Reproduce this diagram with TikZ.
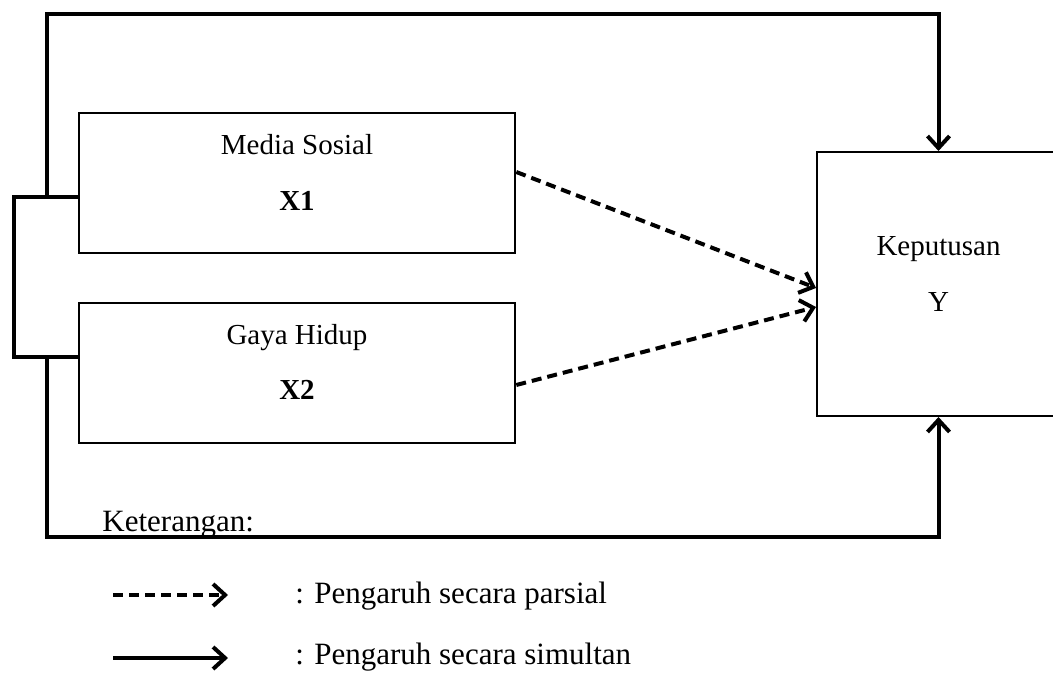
\documentclass[tikz,border=0pt]{standalone}
\usepackage{fontspec}
\setmainfont{Liberation Serif}
\usetikzlibrary{arrows.meta, positioning}

\begin{document}
\begin{tikzpicture}[
    x=0.5pt, y=-0.5pt,
    every node/.style={font=\fontsize{14.5}{17}\selectfont, inner sep=0pt},
    varbox/.style={rectangle, draw, line width=1.3pt, minimum width=218pt, minimum height=70pt},
    ybox/.style={rectangle, draw, line width=1pt, minimum width=121.5pt, minimum height=132pt},
    legend/.style={font=\fontsize{15.5}{18}\selectfont, anchor=base west},
    link/.style={line width=2pt},
    arrow/.style={-{Straight Barb[length=6pt, width=11pt]}, line width=2pt},
    partial/.style={arrow, dash pattern=on 5pt off 3pt}
]
    \useasboundingbox (0,0) rectangle (1053,683);
    \clip (0,0) rectangle (1053,683);

    \node[varbox] (x1) at (297,183) {};
    \node[varbox] (x2) at (297,373) {};
    \node[ybox] (y) at (938.5,284) {};

    \node[anchor=base] (x1name) at (297,155) {Media Sosial};
    \node[anchor=base] (x1code) at (297,211) {\textbf{X1}};
    \node[anchor=base] (x2name) at (297,345) {Gaya Hidup};
    \node[anchor=base] (x2code) at (297,400) {\textbf{X2}};
    \node[anchor=base] (yname) at (938.5,256) {Keputusan};
    \node[anchor=base] (ycode) at (938.5,312) {Y};

    % simultaneous paths
    \coordinate (jt) at (47,197);
    \coordinate (jb) at (47,357);
    \draw[link] ([yshift=-7pt]x1.west) -- (14,197) -- (14,357) -- ([yshift=8pt]x2.west);
    \draw[arrow] (jt) -- (47,14) -| (y.north);
    \draw[arrow] (jb) -- (47,537) -| (y.south);

    % partial paths
    \draw[partial] ([yshift=5.5pt]x1.east) -- ([yshift=-2pt]y.west);
    \draw[partial] ([yshift=-6pt]x2.east) -- ([yshift=-11.5pt]y.west);

    % legend
    \node[legend] (note) at (102,531) {Keterangan:};
    \coordinate (pa) at (113,595);
    \coordinate (pb) at (228,595);
    \coordinate (sa) at (113,658);
    \coordinate (sb) at (228,658);
    \draw[partial] (pa) -- (pb);
    \draw[arrow] (sa) -- (sb);
    \node[legend] (parsial) at (295,603) {: Pengaruh secara parsial};
    \node[legend] (simultan) at (295,664) {: Pengaruh secara simultan};
\end{tikzpicture}
\end{document}
